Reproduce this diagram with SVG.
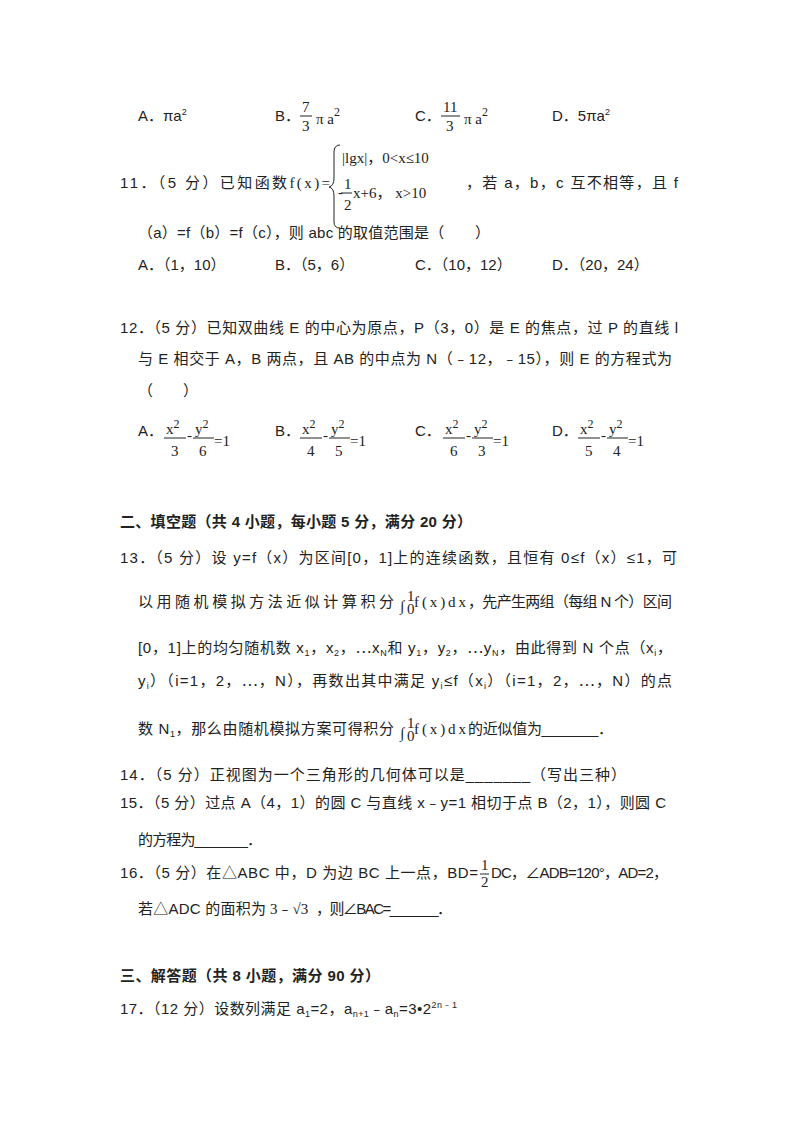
<svg xmlns="http://www.w3.org/2000/svg" width="800" height="1132" viewBox="0 0 800 1132">
<style>
text{font-family:"Liberation Sans","Noto Sans CJK SC",sans-serif;font-size:15px;fill:#222}
.s{font-family:"Liberation Serif","Noto Sans CJK SC",serif;font-size:15px}
.b{font-weight:bold}
.sm{font-size:9px}
line{stroke:#222;stroke-width:1}
</style>
<rect width="800" height="1132" fill="#fff"/>
<g id="q10opts">
<text x="138" y="121">A．πa<tspan class="sm" dy="-6">2</tspan></text>
<text x="275" y="121">B．</text>
<text class="s" x="302" y="112">7</text><line x1="300" y1="116" x2="312" y2="116"/><text class="s" x="302" y="131">3</text>
<text class="s" x="316" y="124">π a<tspan dy="-8" font-size="12">2</tspan></text>
<text x="415" y="121">C．</text>
<text class="s" x="443" y="112">11</text><line x1="441" y1="116" x2="460" y2="116"/><text class="s" x="446" y="131">3</text>
<text class="s" x="464" y="124">π a<tspan dy="-8" font-size="12">2</tspan></text>
<text x="552" y="121">D．5πa<tspan class="sm" dy="-6">2</tspan></text>
</g>
<g id="q11">
<text x="120" y="188" textLength="210" lengthAdjust="spacing">11．（5 分）已知函数<tspan class="s">f(x)=</tspan></text>
<path d="M340,145 Q334,145 334,152 L334,178 Q334,186 329,187 Q334,188 334,196 L334,222 Q334,228 340,228" fill="none" stroke="#222"/>
<text class="s" x="342" y="163">|lgx|，0&lt;x≤10</text>
<text class="s" x="344" y="189">1</text><line x1="341" y1="193" x2="352" y2="193"/><text class="s" x="344" y="210">2</text>
<text class="s" x="338" y="197">-</text>
<text class="s" x="353" y="198">x+6，  x&gt;10</text>
<text x="466" y="188" textLength="212" lengthAdjust="spacing">，若 a，b，c 互不相等，且 f</text>
<text x="138" y="238" textLength="352" lengthAdjust="spacing">（a）=f（b）=f（c），则 abc 的取值范围是（　　）</text>
<text x="138" y="270">A．（1，10）</text>
<text x="275" y="270">B．（5，6）</text>
<text x="415" y="270">C．（10，12）</text>
<text x="552" y="270">D．（20，24）</text>
</g>
<g id="q12">
<text x="120" y="333" textLength="558" lengthAdjust="spacing">12．（5 分）已知双曲线 E 的中心为原点，P（3，0）是 E 的焦点，过 P 的直线 l</text>
<text x="138" y="364" textLength="534" lengthAdjust="spacing">与 E 相交于 A，B 两点，且 AB 的中点为 N（﹣12，﹣15），则 E 的方程式为</text>
<text x="138" y="396">（　　）</text>
<g class="s">
<text x="138" y="436">A．</text>
<text class="s" x="166" y="434">x<tspan dy="-6" font-size="12">2</tspan></text><line x1="164" y1="438" x2="186" y2="438"/><text class="s" x="171" y="456">3</text>
<text class="s" x="187" y="440">-</text>
<text class="s" x="195" y="434">y<tspan dy="-6" font-size="12">2</tspan></text><line x1="193" y1="438" x2="214" y2="438"/><text class="s" x="199" y="456">6</text>
<text class="s" x="214" y="446">=1</text>
<text x="275" y="436">B．</text>
<text class="s" x="302" y="434">x<tspan dy="-6" font-size="12">2</tspan></text><line x1="300" y1="438" x2="322" y2="438"/><text class="s" x="307" y="456">4</text>
<text class="s" x="323" y="440">-</text>
<text class="s" x="331" y="434">y<tspan dy="-6" font-size="12">2</tspan></text><line x1="329" y1="438" x2="350" y2="438"/><text class="s" x="335" y="456">5</text>
<text class="s" x="350" y="446">=1</text>
<text x="415" y="436">C．</text>
<text class="s" x="445" y="434">x<tspan dy="-6" font-size="12">2</tspan></text><line x1="443" y1="438" x2="465" y2="438"/><text class="s" x="450" y="456">6</text>
<text class="s" x="466" y="440">-</text>
<text class="s" x="474" y="434">y<tspan dy="-6" font-size="12">2</tspan></text><line x1="472" y1="438" x2="493" y2="438"/><text class="s" x="478" y="456">3</text>
<text class="s" x="493" y="446">=1</text>
<text x="552" y="436">D．</text>
<text class="s" x="580" y="434">x<tspan dy="-6" font-size="12">2</tspan></text><line x1="578" y1="438" x2="600" y2="438"/><text class="s" x="585" y="456">5</text>
<text class="s" x="601" y="440">-</text>
<text class="s" x="609" y="434">y<tspan dy="-6" font-size="12">2</tspan></text><line x1="607" y1="438" x2="628" y2="438"/><text class="s" x="613" y="456">4</text>
<text class="s" x="628" y="446">=1</text>
</g>
</g>
<text class="b" x="120" y="527" textLength="352" lengthAdjust="spacing">二、填空题（共 4 小题，每小题 5 分，满分 20 分）</text>
<g id="q13">
<text x="120" y="563" textLength="557" lengthAdjust="spacing">13．（5 分）设 y=f（x）为区间[0，1]上的连续函数，且恒有 0≤f（x）≤1，可</text>
<text x="138" y="607" textLength="256" lengthAdjust="spacing">以用随机模拟方法近似计算积分</text>
<text class="s" x="400" y="611" font-size="16">∫</text>
<text class="s" x="407" y="601" font-size="10">1</text>
<text class="s" x="407" y="614" font-size="10">0</text>
<text class="s" x="414" y="607" textLength="52" lengthAdjust="spacing">f(x)dx</text>
<text x="468" y="607" textLength="204" lengthAdjust="spacing">，先产生两组（每组 N 个）区间</text>
<text x="138" y="653" textLength="534" lengthAdjust="spacing">[0，1]上的均匀随机数 x<tspan class="sm" dy="3">1</tspan><tspan dy="-3">，x</tspan><tspan class="sm" dy="3">2</tspan><tspan dy="-3">，⋯x</tspan><tspan class="sm" dy="3">N</tspan><tspan dy="-3">和 y</tspan><tspan class="sm" dy="3">1</tspan><tspan dy="-3">，y</tspan><tspan class="sm" dy="3">2</tspan><tspan dy="-3">，⋯y</tspan><tspan class="sm" dy="3">N</tspan><tspan dy="-3">，由此得到 N 个点（x</tspan><tspan class="sm" dy="3">i</tspan><tspan dy="-3">，</tspan></text>
<text x="138" y="686" textLength="534" lengthAdjust="spacing">y<tspan class="sm" dy="3">i</tspan><tspan dy="-3">）（i=1，2，⋯，N），再数出其中满足 y</tspan><tspan class="sm" dy="3">i</tspan><tspan dy="-3">≤f（x</tspan><tspan class="sm" dy="3">i</tspan><tspan dy="-3">）（i=1，2，⋯，N）的点</tspan></text>
<text x="138" y="734" textLength="256" lengthAdjust="spacing">数 N<tspan class="sm" dy="3">1</tspan><tspan dy="-3">，那么由随机模拟方案可得积分</tspan></text>
<text class="s" x="400" y="738" font-size="16">∫</text>
<text class="s" x="407" y="728" font-size="10">1</text>
<text class="s" x="407" y="741" font-size="10">0</text>
<text class="s" x="414" y="734" textLength="52" lengthAdjust="spacing">f(x)dx</text>
<text x="468" y="734" textLength="145" lengthAdjust="spacing">的近似值为_______．</text>
</g>
<g id="q14"><text x="120" y="780" textLength="506" lengthAdjust="spacing">14．（5 分）正视图为一个三角形的几何体可以是_______（写出三种）</text></g>
<g id="q15">
<text x="120" y="808" textLength="546" lengthAdjust="spacing">15．（5 分）过点 A（4，1）的圆 C 与直线 x﹣y=1 相切于点 B（2，1），则圆 C</text>
<text x="138" y="845" textLength="124" lengthAdjust="spacing">的方程为_______．</text>
</g>
<g id="q16">
<text x="120" y="878" textLength="358" lengthAdjust="spacing">16．（5 分）在△ABC 中，D 为边 BC 上一点，BD=</text>
<text class="s" x="481" y="870" font-size="13">1</text>
<line x1="480" y1="874" x2="489" y2="874"/>
<text class="s" x="481" y="887" font-size="13">2</text>
<text x="491" y="878" textLength="177" lengthAdjust="spacing">DC，∠ADB=120°，AD=2，</text>
<text x="138" y="914" textLength="128" lengthAdjust="spacing">若△ADC 的面积为</text>
<text class="s" x="270" y="914">3﹣√3</text>
<text x="316" y="914" textLength="136" lengthAdjust="spacing">，则∠BAC=_______．</text>
</g>
<text class="b" x="120" y="981" textLength="260" lengthAdjust="spacing">三、解答题（共 8 小题，满分 90 分）</text>
<g id="q17"><text x="120" y="1014" textLength="337" lengthAdjust="spacing">17．（12 分）设数列满足 a<tspan class="sm" dy="3">1</tspan><tspan dy="-3">=2，a</tspan><tspan class="sm" dy="3">n+1</tspan><tspan dy="-3">﹣a</tspan><tspan class="sm" dy="3">n</tspan><tspan dy="-3">=3•2</tspan><tspan class="sm" dy="-6">2n﹣1</tspan></text></g>
</svg>
